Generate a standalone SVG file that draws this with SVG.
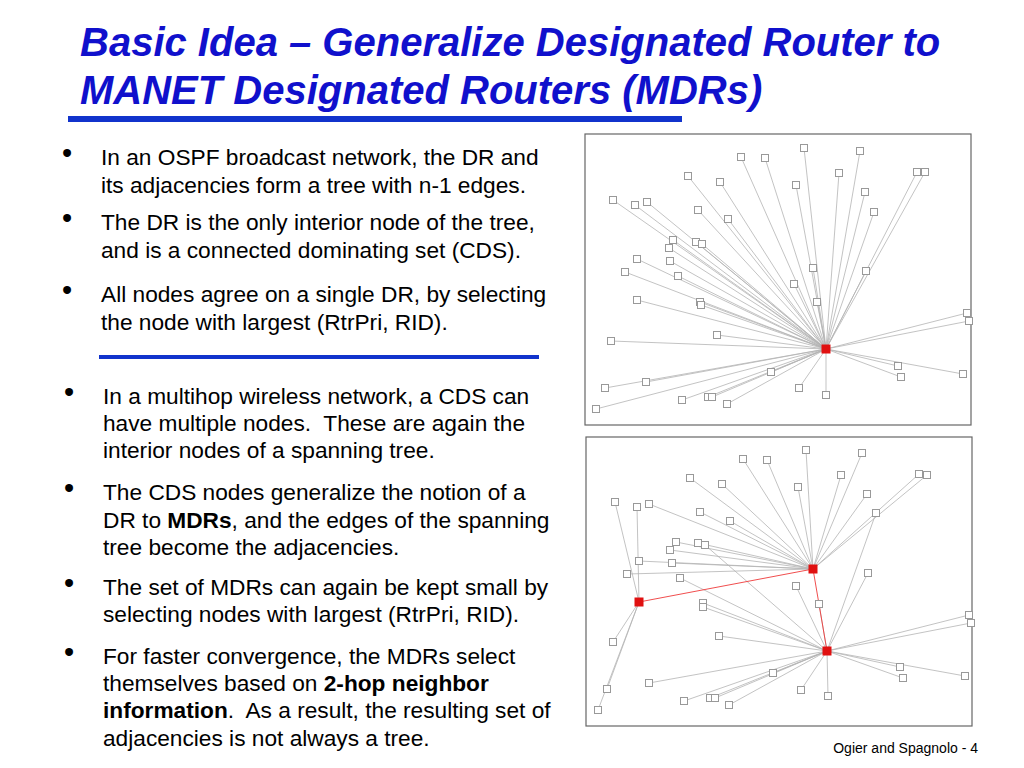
<svg xmlns="http://www.w3.org/2000/svg" width="1024" height="768" viewBox="0 0 1024 768">
<style>
.title{font-family:"Liberation Sans",Arial,sans-serif;font-size:40px;font-weight:bold;font-style:italic;fill:#1010cc}
.body{font-family:"Liberation Sans",Arial,sans-serif;font-size:22.7px;fill:#000}
.bul{font-family:"Liberation Sans",Arial,sans-serif;font-size:29px;fill:#000}
.foot{font-family:"Liberation Sans",Arial,sans-serif;font-size:14px;fill:#000}
.frame{fill:#fff;stroke:#666;stroke-width:1.2}
.n rect{fill:#fff;stroke:#999;stroke-width:1}
.m rect{fill:#e01010;stroke:#e01010;stroke-width:1}
.e line{stroke:#b4b4b4;stroke-width:0.8}
.r line{stroke:#ee3a3a;stroke-width:0.9}
</style>
<rect width="1024" height="768" fill="#fff"/>
<g id="title">
<text class="title" x="80" y="56">Basic Idea – Generalize Designated Router to</text>
<text class="title" x="80" y="104">MANET Designated Routers (MDRs)</text>
<rect x="68" y="116" width="614" height="6" fill="#1133cc"/>
</g>
<g id="text1">
<text class="bul" x="62" y="163">•</text>
<text class="body" x="101" y="165">In an OSPF broadcast network, the DR and</text>
<text class="body" x="101" y="193">its adjacencies form a tree with n-1 edges.</text>
<text class="bul" x="62" y="228">•</text>
<text class="body" x="101" y="230">The DR is the only interior node of the tree,</text>
<text class="body" x="101" y="258">and is a connected dominating set (CDS).</text>
<text class="bul" x="62" y="300">•</text>
<text class="body" x="101" y="302">All nodes agree on a single DR, by selecting</text>
<text class="body" x="101" y="330">the node with largest (RtrPri, RID).</text>
<rect x="99" y="355" width="440" height="4" fill="#1133cc"/>
</g>
<g id="text2">
<text class="bul" x="64" y="402">•</text>
<text class="body" x="103" y="404">In a multihop wireless network, a CDS can</text>
<text class="body" x="103" y="431" xml:space="preserve">have multiple nodes.  These are again the</text>
<text class="body" x="103" y="458">interior nodes of a spanning tree.</text>
<text class="bul" x="64" y="498">•</text>
<text class="body" x="103" y="500">The CDS nodes generalize the notion of a</text>
<text class="body" x="103" y="528">DR to <tspan font-weight="bold">MDRs</tspan>, and the edges of the spanning</text>
<text class="body" x="103" y="555">tree become the adjacencies.</text>
<text class="bul" x="64" y="593">•</text>
<text class="body" x="103" y="595">The set of MDRs can again be kept small by</text>
<text class="body" x="103" y="622">selecting nodes with largest (RtrPri, RID).</text>
<text class="bul" x="64" y="662">•</text>
<text class="body" x="103" y="664">For faster convergence, the MDRs select</text>
<text class="body" x="103" y="691">themselves based on <tspan font-weight="bold">2-hop neighbor</tspan></text>
<text class="body" x="103" y="718" xml:space="preserve"><tspan font-weight="bold">information</tspan>.  As a result, the resulting set of</text>
<text class="body" x="103" y="746">adjacencies is not always a tree.</text>
</g>
<text class="foot" x="978" y="753" text-anchor="end">Ogier and Spagnolo - 4</text>

<rect class="frame" x="585" y="134" width="386" height="291"/>
<rect class="frame" x="586" y="437" width="386" height="289"/>

<g id="top-connectors" class="e">
<line x1="741" y1="157" x2="826" y2="349"/><line x1="765" y1="158" x2="826" y2="349"/><line x1="804" y1="148" x2="826" y2="349"/><line x1="860" y1="151" x2="826" y2="349"/>
<line x1="688" y1="176" x2="826" y2="349"/><line x1="720" y1="182" x2="826" y2="349"/><line x1="839" y1="173" x2="826" y2="349"/><line x1="917" y1="172" x2="826" y2="349"/>
<line x1="925" y1="172" x2="826" y2="349"/><line x1="796" y1="185" x2="826" y2="349"/><line x1="865" y1="192" x2="826" y2="349"/><line x1="613" y1="200" x2="826" y2="349"/>
<line x1="635" y1="205" x2="826" y2="349"/><line x1="647" y1="202" x2="826" y2="349"/><line x1="698" y1="210" x2="826" y2="349"/><line x1="728" y1="219" x2="826" y2="349"/>
<line x1="874" y1="212" x2="826" y2="349"/><line x1="673" y1="240" x2="826" y2="349"/><line x1="696" y1="242" x2="826" y2="349"/><line x1="702" y1="244" x2="826" y2="349"/>
<line x1="669" y1="248" x2="826" y2="349"/><line x1="637" y1="259" x2="826" y2="349"/><line x1="670" y1="261" x2="826" y2="349"/><line x1="625" y1="272" x2="826" y2="349"/>
<line x1="678" y1="276" x2="826" y2="349"/><line x1="813" y1="268" x2="826" y2="349"/><line x1="866" y1="271" x2="826" y2="349"/><line x1="794" y1="284" x2="826" y2="349"/>
<line x1="637" y1="300" x2="826" y2="349"/><line x1="700" y1="302" x2="826" y2="349"/><line x1="701" y1="305" x2="826" y2="349"/><line x1="817" y1="302" x2="826" y2="349"/>
<line x1="967" y1="313" x2="826" y2="349"/><line x1="969" y1="321" x2="826" y2="349"/><line x1="717" y1="335" x2="826" y2="349"/><line x1="611" y1="341" x2="826" y2="349"/>
<line x1="898" y1="366" x2="826" y2="349"/><line x1="901" y1="377" x2="826" y2="349"/><line x1="963" y1="374" x2="826" y2="349"/><line x1="771" y1="372" x2="826" y2="349"/>
<line x1="646" y1="382" x2="826" y2="349"/><line x1="605" y1="388" x2="826" y2="349"/><line x1="799" y1="388" x2="826" y2="349"/><line x1="826" y1="395" x2="826" y2="349"/>
<line x1="682" y1="400" x2="826" y2="349"/><line x1="708" y1="397" x2="826" y2="349"/><line x1="712" y1="397" x2="826" y2="349"/><line x1="727" y1="404" x2="826" y2="349"/>
<line x1="596" y1="409" x2="826" y2="349"/>
</g>

<g id="bottom-connectors">
<g class="e">
<line x1="743" y1="459" x2="813" y2="569"/><line x1="767" y1="460" x2="813" y2="569"/><line x1="806" y1="450" x2="813" y2="569"/><line x1="862" y1="453" x2="813" y2="569"/>
<line x1="690" y1="478" x2="813" y2="569"/><line x1="722" y1="484" x2="813" y2="569"/><line x1="841" y1="475" x2="813" y2="569"/><line x1="919" y1="474" x2="813" y2="569"/>
<line x1="927" y1="475" x2="813" y2="569"/><line x1="798" y1="487" x2="813" y2="569"/><line x1="867" y1="494" x2="813" y2="569"/><line x1="649" y1="504" x2="813" y2="569"/>
<line x1="700" y1="512" x2="813" y2="569"/><line x1="730" y1="521" x2="813" y2="569"/><line x1="676" y1="542" x2="813" y2="569"/><line x1="698" y1="543" x2="813" y2="569"/>
<line x1="670" y1="550" x2="813" y2="569"/><line x1="639" y1="561" x2="813" y2="569"/><line x1="672" y1="563" x2="813" y2="569"/><line x1="627" y1="574" x2="813" y2="569"/>
<line x1="615" y1="502" x2="639" y2="602"/><line x1="637" y1="507" x2="639" y2="602"/><line x1="613" y1="642" x2="639" y2="602"/><line x1="607" y1="689" x2="639" y2="602"/>
<line x1="598" y1="710" x2="639" y2="602"/>
<line x1="876" y1="513" x2="827" y2="651"/><line x1="705" y1="545" x2="827" y2="651"/><line x1="680" y1="578" x2="827" y2="651"/><line x1="868" y1="573" x2="827" y2="651"/>
<line x1="796" y1="586" x2="827" y2="651"/><line x1="703" y1="603" x2="827" y2="651"/><line x1="703" y1="607" x2="827" y2="651"/><line x1="819" y1="604" x2="827" y2="651"/>
<line x1="969" y1="615" x2="827" y2="651"/><line x1="971" y1="623" x2="827" y2="651"/><line x1="719" y1="636" x2="827" y2="651"/><line x1="900" y1="667" x2="827" y2="651"/>
<line x1="903" y1="678" x2="827" y2="651"/><line x1="965" y1="676" x2="827" y2="651"/><line x1="773" y1="673" x2="827" y2="651"/><line x1="649" y1="683" x2="827" y2="651"/>
<line x1="801" y1="690" x2="827" y2="651"/><line x1="828" y1="696" x2="827" y2="651"/><line x1="684" y1="701" x2="827" y2="651"/><line x1="710" y1="698" x2="827" y2="651"/>
<line x1="715" y1="698" x2="827" y2="651"/><line x1="729" y1="705" x2="827" y2="651"/>
</g>
<g class="r">
<line x1="813" y1="569" x2="639" y2="602"/><line x1="813" y1="569" x2="827" y2="651"/>
</g>
</g>

<g id="top-nodes">
<g id="t1" class="n"><rect x="737.5" y="153.5" width="7" height="7"/></g>
<g id="t2" class="n"><rect x="761.5" y="154.5" width="7" height="7"/></g>
<g id="t3" class="n"><rect x="800.5" y="144.5" width="7" height="7"/></g>
<g id="t4" class="n"><rect x="856.5" y="147.5" width="7" height="7"/></g>
<g id="t5" class="n"><rect x="684.5" y="172.5" width="7" height="7"/></g>
<g id="t6" class="n"><rect x="716.5" y="178.5" width="7" height="7"/></g>
<g id="t7" class="n"><rect x="835.5" y="169.5" width="7" height="7"/></g>
<g id="t8" class="n"><rect x="913.5" y="168.5" width="7" height="7"/></g>
<g id="t9" class="n"><rect x="921.5" y="168.5" width="7" height="7"/></g>
<g id="t10" class="n"><rect x="792.5" y="181.5" width="7" height="7"/></g>
<g id="t11" class="n"><rect x="861.5" y="188.5" width="7" height="7"/></g>
<g id="t12" class="n"><rect x="609.5" y="196.5" width="7" height="7"/></g>
<g id="t13" class="n"><rect x="631.5" y="201.5" width="7" height="7"/></g>
<g id="t14" class="n"><rect x="643.5" y="198.5" width="7" height="7"/></g>
<g id="t15" class="n"><rect x="694.5" y="206.5" width="7" height="7"/></g>
<g id="t16" class="n"><rect x="724.5" y="215.5" width="7" height="7"/></g>
<g id="t17" class="n"><rect x="870.5" y="208.5" width="7" height="7"/></g>
<g id="t18" class="n"><rect x="669.5" y="236.5" width="7" height="7"/></g>
<g id="t19" class="n"><rect x="692.5" y="238.5" width="7" height="7"/></g>
<g id="t20" class="n"><rect x="698.5" y="240.5" width="7" height="7"/></g>
<g id="t21" class="n"><rect x="665.5" y="244.5" width="7" height="7"/></g>
<g id="t22" class="n"><rect x="633.5" y="255.5" width="7" height="7"/></g>
<g id="t23" class="n"><rect x="666.5" y="257.5" width="7" height="7"/></g>
<g id="t24" class="n"><rect x="621.5" y="268.5" width="7" height="7"/></g>
<g id="t25" class="n"><rect x="674.5" y="272.5" width="7" height="7"/></g>
<g id="t26" class="n"><rect x="809.5" y="264.5" width="7" height="7"/></g>
<g id="t27" class="n"><rect x="862.5" y="267.5" width="7" height="7"/></g>
<g id="t28" class="n"><rect x="790.5" y="280.5" width="7" height="7"/></g>
<g id="t29" class="n"><rect x="633.5" y="296.5" width="7" height="7"/></g>
<g id="t30" class="n"><rect x="696.5" y="298.5" width="7" height="7"/></g>
<g id="t31" class="n"><rect x="697.5" y="301.5" width="7" height="7"/></g>
<g id="t32" class="n"><rect x="813.5" y="298.5" width="7" height="7"/></g>
<g id="t33" class="n"><rect x="963.5" y="309.5" width="7" height="7"/></g>
<g id="t34" class="n"><rect x="965.5" y="317.5" width="7" height="7"/></g>
<g id="t35" class="n"><rect x="713.5" y="331.5" width="7" height="7"/></g>
<g id="t36" class="n"><rect x="607.5" y="337.5" width="7" height="7"/></g>
<g id="t37" class="m"><rect x="822" y="345" width="8" height="8"/></g>
<g id="t38" class="n"><rect x="894.5" y="362.5" width="7" height="7"/></g>
<g id="t39" class="n"><rect x="897.5" y="373.5" width="7" height="7"/></g>
<g id="t40" class="n"><rect x="959.5" y="370.5" width="7" height="7"/></g>
<g id="t41" class="n"><rect x="767.5" y="368.5" width="7" height="7"/></g>
<g id="t42" class="n"><rect x="642.5" y="378.5" width="7" height="7"/></g>
<g id="t43" class="n"><rect x="601.5" y="384.5" width="7" height="7"/></g>
<g id="t44" class="n"><rect x="795.5" y="384.5" width="7" height="7"/></g>
<g id="t45" class="n"><rect x="822.5" y="391.5" width="7" height="7"/></g>
<g id="t46" class="n"><rect x="678.5" y="396.5" width="7" height="7"/></g>
<g id="t47" class="n"><rect x="704.5" y="393.5" width="7" height="7"/></g>
<g id="t48" class="n"><rect x="708.5" y="393.5" width="7" height="7"/></g>
<g id="t49" class="n"><rect x="723.5" y="400.5" width="7" height="7"/></g>
<g id="t50" class="n"><rect x="592.5" y="405.5" width="7" height="7"/></g>
</g>

<g id="bottom-nodes">
<g id="b1" class="n"><rect x="739.5" y="455.5" width="7" height="7"/></g>
<g id="b2" class="n"><rect x="763.5" y="456.5" width="7" height="7"/></g>
<g id="b3" class="n"><rect x="802.5" y="446.5" width="7" height="7"/></g>
<g id="b4" class="n"><rect x="858.5" y="449.5" width="7" height="7"/></g>
<g id="b5" class="n"><rect x="686.5" y="474.5" width="7" height="7"/></g>
<g id="b6" class="n"><rect x="718.5" y="480.5" width="7" height="7"/></g>
<g id="b7" class="n"><rect x="837.5" y="471.5" width="7" height="7"/></g>
<g id="b8" class="n"><rect x="915.5" y="470.5" width="7" height="7"/></g>
<g id="b9" class="n"><rect x="923.5" y="471.5" width="7" height="7"/></g>
<g id="b10" class="n"><rect x="794.5" y="483.5" width="7" height="7"/></g>
<g id="b11" class="n"><rect x="863.5" y="490.5" width="7" height="7"/></g>
<g id="b12" class="n"><rect x="611.5" y="498.5" width="7" height="7"/></g>
<g id="b13" class="n"><rect x="633.5" y="503.5" width="7" height="7"/></g>
<g id="b14" class="n"><rect x="645.5" y="500.5" width="7" height="7"/></g>
<g id="b15" class="n"><rect x="696.5" y="508.5" width="7" height="7"/></g>
<g id="b16" class="n"><rect x="726.5" y="517.5" width="7" height="7"/></g>
<g id="b17" class="n"><rect x="872.5" y="509.5" width="7" height="7"/></g>
<g id="b18" class="n"><rect x="672.5" y="538.5" width="7" height="7"/></g>
<g id="b19" class="n"><rect x="694.5" y="539.5" width="7" height="7"/></g>
<g id="b20" class="n"><rect x="701.5" y="541.5" width="7" height="7"/></g>
<g id="b21" class="n"><rect x="666.5" y="546.5" width="7" height="7"/></g>
<g id="b22" class="n"><rect x="635.5" y="557.5" width="7" height="7"/></g>
<g id="b23" class="n"><rect x="668.5" y="559.5" width="7" height="7"/></g>
<g id="b24" class="n"><rect x="623.5" y="570.5" width="7" height="7"/></g>
<g id="b25" class="n"><rect x="676.5" y="574.5" width="7" height="7"/></g>
<g id="b26" class="m"><rect x="809" y="565" width="8" height="8"/></g>
<g id="b27" class="n"><rect x="864.5" y="569.5" width="7" height="7"/></g>
<g id="b28" class="n"><rect x="792.5" y="582.5" width="7" height="7"/></g>
<g id="b29" class="m"><rect x="635" y="598" width="8" height="8"/></g>
<g id="b30" class="n"><rect x="699.5" y="599.5" width="7" height="7"/></g>
<g id="b31" class="n"><rect x="699.5" y="603.5" width="7" height="7"/></g>
<g id="b32" class="n"><rect x="815.5" y="600.5" width="7" height="7"/></g>
<g id="b33" class="n"><rect x="965.5" y="611.5" width="7" height="7"/></g>
<g id="b34" class="n"><rect x="967.5" y="619.5" width="7" height="7"/></g>
<g id="b35" class="n"><rect x="715.5" y="632.5" width="7" height="7"/></g>
<g id="b36" class="n"><rect x="609.5" y="638.5" width="7" height="7"/></g>
<g id="b37" class="m"><rect x="823" y="647" width="8" height="8"/></g>
<g id="b38" class="n"><rect x="896.5" y="663.5" width="7" height="7"/></g>
<g id="b39" class="n"><rect x="899.5" y="674.5" width="7" height="7"/></g>
<g id="b40" class="n"><rect x="961.5" y="672.5" width="7" height="7"/></g>
<g id="b41" class="n"><rect x="769.5" y="669.5" width="7" height="7"/></g>
<g id="b42" class="n"><rect x="645.5" y="679.5" width="7" height="7"/></g>
<g id="b43" class="n"><rect x="603.5" y="685.5" width="7" height="7"/></g>
<g id="b44" class="n"><rect x="797.5" y="686.5" width="7" height="7"/></g>
<g id="b45" class="n"><rect x="824.5" y="692.5" width="7" height="7"/></g>
<g id="b46" class="n"><rect x="680.5" y="697.5" width="7" height="7"/></g>
<g id="b47" class="n"><rect x="706.5" y="694.5" width="7" height="7"/></g>
<g id="b48" class="n"><rect x="711.5" y="694.5" width="7" height="7"/></g>
<g id="b49" class="n"><rect x="725.5" y="701.5" width="7" height="7"/></g>
<g id="b50" class="n"><rect x="594.5" y="706.5" width="7" height="7"/></g>
</g>
</svg>
